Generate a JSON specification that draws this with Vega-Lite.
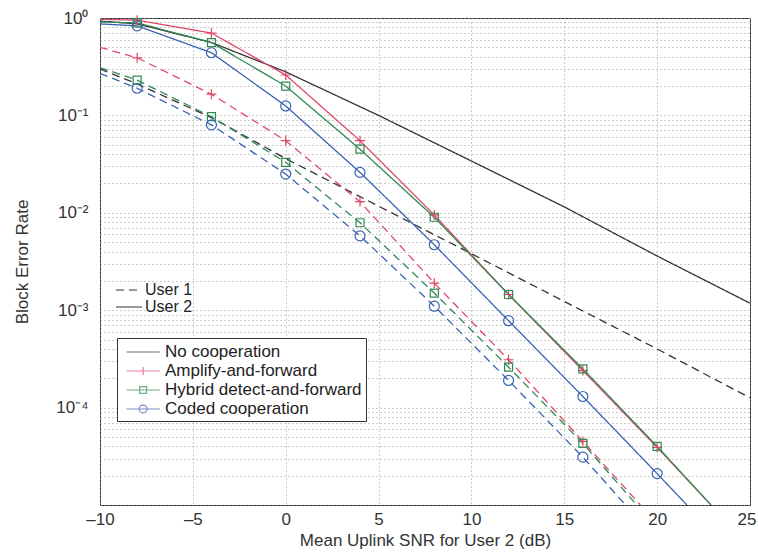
{
  "$schema": "https://vega.github.io/schema/vega-lite/v6.json",
  "width": 650,
  "height": 487,
  "autosize": "none",
  "padding": {"left": 100, "top": 18, "right": 8, "bottom": 48},
  "background": "white",
  "config": {
    "font": "Liberation Sans",
    "view": {"stroke": "#333", "strokeWidth": 1},
    "axis": {"labelFont": "Liberation Sans", "titleFont": "Liberation Sans", "labelColor": "#333", "titleColor": "#333", "labelFontSize": 17, "titleFontSize": 17, "titleFontWeight": "normal", "domain": false, "gridColor": "#999", "gridDash": [1, 3], "gridWidth": 1, "tickColor": "#333"},
    "legend": {"labelFont": "Liberation Sans", "labelFontSize": 17, "labelColor": "#222", "labelLimit": 0}
  },
  "data": {"values": [
    {"snr": -10, "ber": 0.93, "scheme": "No cooperation", "user": "User 2"},
    {"snr": -8, "ber": 0.87, "scheme": "No cooperation", "user": "User 2"},
    {"snr": -4, "ber": 0.56, "scheme": "No cooperation", "user": "User 2"},
    {"snr": 0, "ber": 0.28, "scheme": "No cooperation", "user": "User 2"},
    {"snr": 5, "ber": 0.1, "scheme": "No cooperation", "user": "User 2"},
    {"snr": 10, "ber": 0.034, "scheme": "No cooperation", "user": "User 2"},
    {"snr": 15, "ber": 0.0115, "scheme": "No cooperation", "user": "User 2"},
    {"snr": 20, "ber": 0.0036, "scheme": "No cooperation", "user": "User 2"},
    {"snr": 25, "ber": 0.00118, "scheme": "No cooperation", "user": "User 2"},
    {"snr": -10, "ber": 0.3, "scheme": "No cooperation", "user": "User 1"},
    {"snr": -8, "ber": 0.21, "scheme": "No cooperation", "user": "User 1"},
    {"snr": -4, "ber": 0.095, "scheme": "No cooperation", "user": "User 1"},
    {"snr": 0, "ber": 0.036, "scheme": "No cooperation", "user": "User 1"},
    {"snr": 5, "ber": 0.0117, "scheme": "No cooperation", "user": "User 1"},
    {"snr": 10, "ber": 0.0038, "scheme": "No cooperation", "user": "User 1"},
    {"snr": 15, "ber": 0.00123, "scheme": "No cooperation", "user": "User 1"},
    {"snr": 20, "ber": 0.0004, "scheme": "No cooperation", "user": "User 1"},
    {"snr": 25, "ber": 0.000126, "scheme": "No cooperation", "user": "User 1"},
    {"snr": -10, "ber": 0.97, "scheme": "Amplify-and-forward", "user": "User 2"},
    {"snr": -8, "ber": 0.95, "scheme": "Amplify-and-forward", "user": "User 2"},
    {"snr": -4, "ber": 0.7, "scheme": "Amplify-and-forward", "user": "User 2"},
    {"snr": 0, "ber": 0.26, "scheme": "Amplify-and-forward", "user": "User 2"},
    {"snr": 4, "ber": 0.055, "scheme": "Amplify-and-forward", "user": "User 2"},
    {"snr": 8, "ber": 0.0095, "scheme": "Amplify-and-forward", "user": "User 2"},
    {"snr": 12, "ber": 0.00145, "scheme": "Amplify-and-forward", "user": "User 2"},
    {"snr": 16, "ber": 0.00024, "scheme": "Amplify-and-forward", "user": "User 2"},
    {"snr": 20, "ber": 0.000039, "scheme": "Amplify-and-forward", "user": "User 2"},
    {"snr": 22.9, "ber": 0.00001, "scheme": "Amplify-and-forward", "user": "User 2"},
    {"snr": -10, "ber": 0.91, "scheme": "Hybrid detect-and-forward", "user": "User 2"},
    {"snr": -8, "ber": 0.89, "scheme": "Hybrid detect-and-forward", "user": "User 2"},
    {"snr": -4, "ber": 0.56, "scheme": "Hybrid detect-and-forward", "user": "User 2"},
    {"snr": 0, "ber": 0.2, "scheme": "Hybrid detect-and-forward", "user": "User 2"},
    {"snr": 4, "ber": 0.045, "scheme": "Hybrid detect-and-forward", "user": "User 2"},
    {"snr": 8, "ber": 0.009, "scheme": "Hybrid detect-and-forward", "user": "User 2"},
    {"snr": 12, "ber": 0.00145, "scheme": "Hybrid detect-and-forward", "user": "User 2"},
    {"snr": 16, "ber": 0.00025, "scheme": "Hybrid detect-and-forward", "user": "User 2"},
    {"snr": 20, "ber": 0.00004, "scheme": "Hybrid detect-and-forward", "user": "User 2"},
    {"snr": 22.9, "ber": 0.00001, "scheme": "Hybrid detect-and-forward", "user": "User 2"},
    {"snr": -10, "ber": 0.87, "scheme": "Coded cooperation", "user": "User 2"},
    {"snr": -8, "ber": 0.83, "scheme": "Coded cooperation", "user": "User 2"},
    {"snr": -4, "ber": 0.44, "scheme": "Coded cooperation", "user": "User 2"},
    {"snr": 0, "ber": 0.125, "scheme": "Coded cooperation", "user": "User 2"},
    {"snr": 4, "ber": 0.026, "scheme": "Coded cooperation", "user": "User 2"},
    {"snr": 8, "ber": 0.0047, "scheme": "Coded cooperation", "user": "User 2"},
    {"snr": 12, "ber": 0.00078, "scheme": "Coded cooperation", "user": "User 2"},
    {"snr": 16, "ber": 0.00013, "scheme": "Coded cooperation", "user": "User 2"},
    {"snr": 20, "ber": 0.000021, "scheme": "Coded cooperation", "user": "User 2"},
    {"snr": 21.6, "ber": 0.00001, "scheme": "Coded cooperation", "user": "User 2"},
    {"snr": -10, "ber": 0.5, "scheme": "Amplify-and-forward", "user": "User 1"},
    {"snr": -8, "ber": 0.39, "scheme": "Amplify-and-forward", "user": "User 1"},
    {"snr": -4, "ber": 0.165, "scheme": "Amplify-and-forward", "user": "User 1"},
    {"snr": 0, "ber": 0.055, "scheme": "Amplify-and-forward", "user": "User 1"},
    {"snr": 4, "ber": 0.013, "scheme": "Amplify-and-forward", "user": "User 1"},
    {"snr": 8, "ber": 0.0019, "scheme": "Amplify-and-forward", "user": "User 1"},
    {"snr": 12, "ber": 0.00031, "scheme": "Amplify-and-forward", "user": "User 1"},
    {"snr": 16, "ber": 0.000045, "scheme": "Amplify-and-forward", "user": "User 1"},
    {"snr": 19.1, "ber": 0.00001, "scheme": "Amplify-and-forward", "user": "User 1"},
    {"snr": -10, "ber": 0.31, "scheme": "Hybrid detect-and-forward", "user": "User 1"},
    {"snr": -8, "ber": 0.23, "scheme": "Hybrid detect-and-forward", "user": "User 1"},
    {"snr": -4, "ber": 0.097, "scheme": "Hybrid detect-and-forward", "user": "User 1"},
    {"snr": 0, "ber": 0.033, "scheme": "Hybrid detect-and-forward", "user": "User 1"},
    {"snr": 4, "ber": 0.0079, "scheme": "Hybrid detect-and-forward", "user": "User 1"},
    {"snr": 8, "ber": 0.0015, "scheme": "Hybrid detect-and-forward", "user": "User 1"},
    {"snr": 12, "ber": 0.00026, "scheme": "Hybrid detect-and-forward", "user": "User 1"},
    {"snr": 16, "ber": 0.000043, "scheme": "Hybrid detect-and-forward", "user": "User 1"},
    {"snr": 18.9, "ber": 0.00001, "scheme": "Hybrid detect-and-forward", "user": "User 1"},
    {"snr": -10, "ber": 0.27, "scheme": "Coded cooperation", "user": "User 1"},
    {"snr": -8, "ber": 0.19, "scheme": "Coded cooperation", "user": "User 1"},
    {"snr": -4, "ber": 0.08, "scheme": "Coded cooperation", "user": "User 1"},
    {"snr": 0, "ber": 0.025, "scheme": "Coded cooperation", "user": "User 1"},
    {"snr": 4, "ber": 0.0058, "scheme": "Coded cooperation", "user": "User 1"},
    {"snr": 8, "ber": 0.0011, "scheme": "Coded cooperation", "user": "User 1"},
    {"snr": 12, "ber": 0.00019, "scheme": "Coded cooperation", "user": "User 1"},
    {"snr": 16, "ber": 0.000031, "scheme": "Coded cooperation", "user": "User 1"},
    {"snr": 18.3, "ber": 0.00001, "scheme": "Coded cooperation", "user": "User 1"}
  ]},
  "encoding": {
    "x": {"field": "snr", "type": "quantitative", "scale": {"domain": [-10, 25], "nice": false, "zero": false},
      "axis": {"title": "Mean Uplink SNR for User 2 (dB)", "values": [-10, -5, 0, 5, 10, 15, 20, 25], "grid": true, "tickSize": 0, "labelFlush": false, "labelPadding": 6, "titlePadding": 5, "labelExpr": "replace(datum.label, '−', '–')",
        "labelAlign": {"condition": {"test": "datum.value == 25", "value": "right"}, "value": "center"},
        "labelOffset": {"condition": {"test": "datum.value == 25", "value": 6}, "value": 0}}},
    "y": {"field": "ber", "type": "quantitative", "scale": {"type": "log", "domain": [0.00001, 1], "nice": false},
      "axis": {"title": "Block Error Rate", "grid": true, "tickSize": 0, "labelPadding": 12, "titlePadding": 24,
        "values": [0.00001, 0.00002, 0.00003, 0.00004, 0.00005, 0.00006, 0.00007, 0.00008, 0.00009, 0.0001, 0.0002, 0.0003, 0.0004, 0.0005, 0.0006, 0.0007, 0.0008, 0.0009, 0.001, 0.002, 0.003, 0.004, 0.005, 0.006, 0.007, 0.008, 0.009, 0.01, 0.02, 0.03, 0.04, 0.05, 0.06, 0.07, 0.08, 0.09, 0.1, 0.2, 0.3, 0.4, 0.5, 0.6, 0.7, 0.8, 0.9, 1],
        "labelExpr": "datum.value == 1 ? '10⁰' : datum.value == 0.1 ? '10⁻¹' : datum.value == 0.01 ? '10⁻²' : datum.value == 0.001 ? '10⁻³' : datum.value == 0.0001 ? '10⁻⁴' : ''"}}
  },
  "layer": [
    {
      "mark": {"type": "line", "strokeWidth": 1.3, "clip": true},
      "encoding": {
        "color": {"field": "scheme", "type": "nominal", "legend": null,
          "scale": {"domain": ["No cooperation", "Amplify-and-forward", "Hybrid detect-and-forward", "Coded cooperation"], "range": ["#333333", "#e0486a", "#2f8a55", "#3a62b4"]}},
        "strokeDash": {"field": "user", "type": "nominal",
          "scale": {"domain": ["User 1", "User 2"], "range": [[8, 5], [1, 0]]},
          "legend": {"title": null, "orient": "none", "legendX": 15, "legendY": 263, "padding": 0, "symbolType": "M-1,0H2.25", "symbolSize": 256, "symbolStrokeColor": "#333", "symbolStrokeWidth": 1.2, "labelFontSize": 16, "rowPadding": 0, "labelOffset": 12}}
      }
    },
    {
      "transform": [{"filter": "datum.scheme != 'No cooperation' && datum.snr % 4 == 0 && datum.snr > -10"}],
      "mark": {"type": "point", "filled": false, "strokeWidth": 1.2, "opacity": 1, "size": 100},
      "encoding": {
        "color": {"field": "scheme", "type": "nominal", "legend": null,
          "scale": {"domain": ["No cooperation", "Amplify-and-forward", "Hybrid detect-and-forward", "Coded cooperation"], "range": ["#333333", "#e0486a", "#2f8a55", "#3a62b4"]}},
        "shape": {"field": "scheme", "type": "nominal", "legend": null,
          "scale": {"domain": ["Amplify-and-forward", "Hybrid detect-and-forward", "Coded cooperation"], "range": ["M-1,0H1M0,-1V1", "M-0.8,-0.8H0.8V0.8H-0.8Z", "circle"]}}
      }
    },
    {
      "transform": [{"filter": "datum.snr > 1000"}],
      "mark": {"type": "point", "filled": false, "strokeWidth": 1.2},
      "encoding": {
        "color": {"field": "scheme", "type": "nominal",
          "scale": {"domain": ["No cooperation", "Amplify-and-forward", "Hybrid detect-and-forward", "Coded cooperation"], "range": ["#333333", "#e0486a", "#2f8a55", "#3a62b4"]},
          "legend": {"title": null, "orient": "none", "legendX": 17, "legendY": 320, "symbolSize": 324, "strokeColor": "#333", "fillColor": "white", "padding": 4, "rowPadding": 1, "labelOffset": 24, "symbolStrokeWidth": 1.2, "labelFontSize": 17}},
        "shape": {"field": "scheme", "type": "nominal",
          "scale": {"domain": ["No cooperation", "Amplify-and-forward", "Hybrid detect-and-forward", "Coded cooperation"], "range": ["M-0.5,0H3.2", "M-0.5,0H3.2M1.35,-0.45V0.45", "M-0.5,0H3.2M0.97,-0.38H1.73V0.38H0.97Z", "M-0.5,0H3.2M1.79,0A0.44,0.44 0 1,1 0.91,0A0.44,0.44 0 1,1 1.79,0Z"]},
          "legend": {"title": null, "orient": "none", "legendX": 17, "legendY": 320, "symbolSize": 324, "strokeColor": "#333", "fillColor": "white", "padding": 4, "rowPadding": 1, "labelOffset": 24, "symbolStrokeWidth": 1.2, "labelFontSize": 17}}
      }
    }
  ],
  "resolve": {"scale": {"color": "independent", "shape": "independent"}}
}
